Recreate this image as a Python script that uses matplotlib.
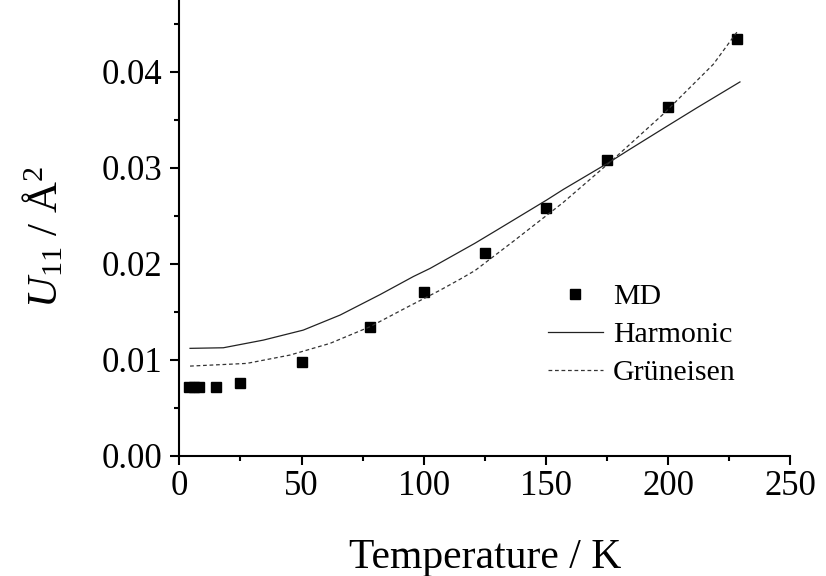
import matplotlib
matplotlib.use("Agg")
import matplotlib.pyplot as plt
from matplotlib.ticker import MultipleLocator, FormatStrFormatter

plt.rcParams['font.family'] = ['Liberation Serif', 'DejaVu Serif']
plt.rcParams['mathtext.fontset'] = 'custom'
plt.rcParams['mathtext.rm'] = 'Liberation Serif'
plt.rcParams['mathtext.it'] = 'Liberation Serif:italic'

# MD simulation points
md_T = [4, 6, 8, 15, 25, 50, 78, 100, 125, 150, 175, 200, 228]
md_U = [0.00713, 0.00713, 0.00713, 0.00719, 0.0076, 0.00976, 0.01344,
        0.01708, 0.02108, 0.02577, 0.0308, 0.03635, 0.04348]

# Harmonic model curve
harm_T = [4.4, 18, 34.4, 50.7, 65.8, 82.2, 95.8, 102.6, 121, 129.9,
          150.3, 157.1, 176.2, 184.4, 198, 211.7, 229.4]
harm_U = [0.01119, 0.01125, 0.01205, 0.01309, 0.01466, 0.01680, 0.01868,
          0.01952, 0.02215, 0.02351, 0.02665, 0.02775, 0.03063, 0.03195,
          0.03410, 0.03625, 0.03896]

# Grueneisen model curve
grun_T = [4.4, 27.6, 45.3, 61.7, 78, 93, 106.7, 114.9, 121, 136.7,
          157.1, 177.6, 198, 218.5, 228.7]
grun_U = [0.00934, 0.00962, 0.01049, 0.01171, 0.01344, 0.01545, 0.01725,
          0.01840, 0.01930, 0.02235, 0.02640, 0.03090, 0.03560, 0.04080,
          0.04434]

fig = plt.figure(figsize=(8.26, 5.76), dpi=100)
ax = fig.add_axes([179.3 / 826, (576 - 455.7) / 576, 611 / 826, 455.7 / 576])

ax.plot(md_T, md_U, linestyle='none', marker='s', markersize=7.2,
        color='black', label='MD')
ax.plot(harm_T, harm_U, color='#222222', lw=0.9, label='Harmonic')
gl, = ax.plot(grun_T, grun_U, color='#333333', lw=0.9, label='Grüneisen')
gl.set_dashes((3.0, 2.2))

ax.set_xlim(0, 250)
ax.set_ylim(0, 0.0475)
ax.xaxis.set_major_locator(MultipleLocator(50))
ax.xaxis.set_minor_locator(MultipleLocator(25))
ax.yaxis.set_major_locator(MultipleLocator(0.01))
ax.yaxis.set_minor_locator(MultipleLocator(0.005))
ax.yaxis.set_major_formatter(FormatStrFormatter('%.2f'))
ax.xaxis.set_major_formatter(FormatStrFormatter('%d'))

for s in ['top', 'right']:
    ax.spines[s].set_visible(False)
for s in ['left', 'bottom']:
    ax.spines[s].set_linewidth(1.5)

ax.tick_params(which='major', direction='out', length=6.5, width=1.5,
               labelsize=25, pad=4)
ax.tick_params(which='minor', direction='out', length=3.6, width=1.5)
ax.tick_params(axis='y', which='major', pad=6)

ax.set_xlabel('Temperature / K', fontsize=30, labelpad=25)
ax.set_ylabel(r'$\mathit{U}_{11}$ / Å$^{2}$', fontsize=31)
ax.yaxis.set_label_coords(-0.185, 0.48)

leg = ax.legend(loc='center left', bbox_to_anchor=(0.603, 0.265),
                frameon=False, fontsize=21.5, handlelength=1.85,
                handletextpad=0.33, labelspacing=0.37, borderpad=0,
                borderaxespad=0, numpoints=1)

fig.savefig('out.png', dpi=100)
